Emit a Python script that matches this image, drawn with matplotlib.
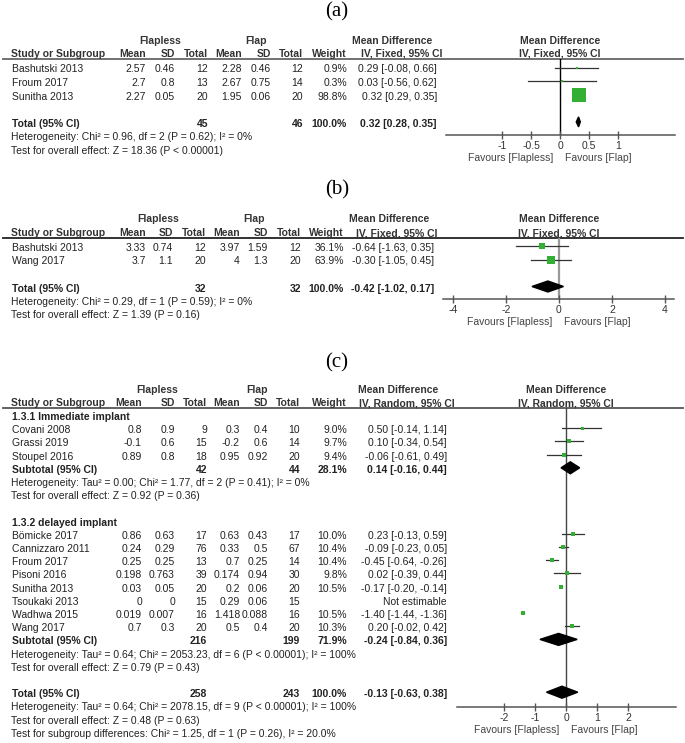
import matplotlib
matplotlib.use('Agg')
import matplotlib.pyplot as plt
from matplotlib.patches import Polygon
import numpy as np

W, H = 685, 743
plt.rcParams['font.family'] = ['Liberation Sans', 'DejaVu Sans']
plt.rcParams['axes.unicode_minus'] = False

# ---------------- (a) ----------------
a_study = ['Bashutski 2013', 'Froum 2017', 'Sunitha 2013']
a_m1 = [2.57, 2.7, 2.27]
a_sd1 = [0.46, 0.8, 0.05]
a_n1 = [12, 13, 20]
a_m2 = [2.28, 2.67, 1.95]
a_sd2 = [0.46, 0.75, 0.06]
a_n2 = [12, 14, 20]
a_weight = [0.9, 0.3, 98.8]
a_md = [0.29, 0.03, 0.32]
a_lo = [-0.08, -0.56, 0.29]
a_hi = [0.66, 0.62, 0.35]
a_tot = [45, 46, 100.0, 0.32, 0.28, 0.35]
a_notes = ['Heterogeneity: Chi² = 0.96, df = 2 (P = 0.62); I² = 0%',
           'Test for overall effect: Z = 18.36 (P < 0.00001)']
a_ticks = [-1, -0.5, 0, 0.5, 1]

# ---------------- (b) ----------------
b_study = ['Bashutski 2013', 'Wang 2017']
b_m1 = [3.33, 3.7]
b_sd1 = [0.74, 1.1]
b_n1 = [12, 20]
b_m2 = [3.97, 4]
b_sd2 = [1.59, 1.3]
b_n2 = [12, 20]
b_weight = [36.1, 63.9]
b_md = [-0.64, -0.30]
b_lo = [-1.63, -1.05]
b_hi = [0.35, 0.45]
b_tot = [32, 32, 100.0, -0.42, -1.02, 0.17]
b_notes = ['Heterogeneity: Chi² = 0.29, df = 1 (P = 0.59); I² = 0%',
           'Test for overall effect: Z = 1.39 (P = 0.16)']
b_ticks = [-4, -2, 0, 2, 4]

# ---------------- (c) ----------------
c1_study = ['Covani 2008', 'Grassi 2019', 'Stoupel 2016']
c1_m1 = [0.8, -0.1, 0.89]
c1_sd1 = [0.9, 0.6, 0.8]
c1_n1 = [9, 15, 18]
c1_m2 = [0.3, -0.2, 0.95]
c1_sd2 = [0.4, 0.6, 0.92]
c1_n2 = [10, 14, 20]
c1_weight = [9.0, 9.7, 9.4]
c1_md = [0.50, 0.10, -0.06]
c1_lo = [-0.14, -0.34, -0.61]
c1_hi = [1.14, 0.54, 0.49]
c1_sub = [42, 44, 28.1, 0.14, -0.16, 0.44]
c1_notes = ['Heterogeneity: Tau² = 0.00; Chi² = 1.77, df = 2 (P = 0.41); I² = 0%',
            'Test for overall effect: Z = 0.92 (P = 0.36)']

c2_study = ['Bömicke 2017', 'Cannizzaro 2011', 'Froum 2017', 'Pisoni 2016',
            'Sunitha 2013', 'Tsoukaki 2013', 'Wadhwa 2015', 'Wang 2017']
c2_m1 = [0.86, 0.24, 0.25, 0.198, 0.03, 0, 0.019, 0.7]
c2_sd1 = [0.63, 0.29, 0.25, 0.763, 0.05, 0, 0.007, 0.3]
c2_n1 = [17, 76, 13, 39, 20, 15, 16, 20]
c2_m2 = [0.63, 0.33, 0.7, 0.174, 0.2, 0.29, 1.418, 0.5]
c2_sd2 = [0.43, 0.5, 0.25, 0.94, 0.06, 0.06, 0.088, 0.4]
c2_n2 = [17, 67, 14, 30, 20, 15, 16, 20]
c2_weight = [10.0, 10.4, 10.4, 9.8, 10.5, None, 10.5, 10.3]
c2_md = [0.23, -0.09, -0.45, 0.02, -0.17, None, -1.40, 0.20]
c2_lo = [-0.13, -0.23, -0.64, -0.39, -0.20, None, -1.44, -0.02]
c2_hi = [0.59, 0.05, -0.26, 0.44, -0.14, None, -1.36, 0.42]
c2_sub = [216, 199, 71.9, -0.24, -0.84, 0.36]
c2_notes = ['Heterogeneity: Tau² = 0.64; Chi² = 2053.23, df = 6 (P < 0.00001); I² = 100%',
            'Test for overall effect: Z = 0.79 (P = 0.43)']
c_tot = [258, 243, 100.0, -0.13, -0.63, 0.38]
c_notes = ['Heterogeneity: Tau² = 0.64; Chi² = 2078.15, df = 9 (P < 0.00001); I² = 100%',
           'Test for overall effect: Z = 0.48 (P = 0.63)',
           'Test for subgroup differences: Chi² = 1.25, df = 1 (P = 0.26), I² = 20.0%']
c_ticks = [-2, -1, 0, 1, 2]

FS = 7.5
TXT = '#222222'
HDR = '#333333'
GREEN = '#33b033'

fig = plt.figure(figsize=(W / 100, H / 100), dpi=100)
bg = fig.add_axes([0, 0, 1, 1])
bg.set_xlim(0, W)
bg.set_ylim(H, 0)
bg.axis('off')


def txt(x, y, s, ha='right', bold=False, color=TXT):
    bg.text(x, y, s, ha=ha, va='center', fontsize=FS, color=color,
            fontweight='bold' if bold else 'normal')


def forest_ax(x0, x1, y0, y1, xlim, ticks, vcolor, vlw):
    ax = fig.add_axes([x0 / W, 1 - y1 / H, (x1 - x0) / W, (y1 - y0) / H])
    ax.set_xlim(*xlim)
    ax.set_ylim(y1, y0)
    ax.patch.set_alpha(0)
    for s in ['top', 'right', 'left']:
        ax.spines[s].set_visible(False)
    ax.spines['bottom'].set_color('#555555')
    ax.spines['bottom'].set_linewidth(1.1)
    ax.set_yticks([])
    ax.set_xticks(ticks)
    ax.set_xticklabels([f'{t:g}' for t in ticks])
    ax.tick_params(axis='x', direction='inout', length=6, width=1, color='#555555',
                   labelsize=FS, labelcolor=HDR, pad=1.5)
    ax.axvline(0, color=vcolor, lw=vlw, zorder=1)
    ax.annotate('Favours [Flapless]', xy=(0, 0), xycoords=('data', 'axes fraction'),
                xytext=(-5, -16.5), textcoords='offset points', ha='right', va='center',
                fontsize=FS, color='#444444')
    ax.annotate('Favours [Flap]', xy=(0, 0), xycoords=('data', 'axes fraction'),
                xytext=(3.6, -16.5), textcoords='offset points', ha='left', va='center',
                fontsize=FS, color='#444444')
    return ax


def header(y1, y2, cols, flx, fx, mdx, ivx, ivlabel, rx, x_line, line_color):
    txt(flx, y1, 'Flapless', ha='center', bold=True, color=HDR)
    txt(fx, y1, 'Flap', ha='center', bold=True, color=HDR)
    txt(mdx, y1, 'Mean Difference', ha='center', bold=True, color=HDR)
    txt(rx, y1, 'Mean Difference', ha='center', bold=True, color=HDR)
    txt(11, y2, 'Study or Subgroup', ha='left', bold=True, color=HDR)
    for x, s in zip(cols[:7], ['Mean', 'SD', 'Total', 'Mean', 'SD', 'Total', 'Weight']):
        txt(x, y2, s, bold=True, color=HDR)
    txt(ivx, y2, ivlabel, ha='left', bold=True, color=HDR)
    txt(rx, y2, ivlabel, ha='center', bold=True, color=HDR)
    bg.plot([3, 683], [x_line, x_line], color=line_color, lw=1.3)


def study_rows(ax, ys, cols, study, m1, sd1, n1, m2, sd2, n2, wt, md, lo, hi, k):
    for i, y in enumerate(ys):
        txt(12, y, study[i], ha='left')
        vals = [f'{m1[i]:g}', f'{sd1[i]:g}', str(n1[i]), f'{m2[i]:g}', f'{sd2[i]:g}', str(n2[i])]
        for x, s in zip(cols[:6], vals):
            txt(x, y, s)
        if md[i] is None:
            txt(cols[7], y, 'Not estimable')
            continue
        txt(cols[6], y, f'{wt[i]:.1f}%')
        txt(cols[7], y, f'{md[i]:.2f} [{lo[i]:.2f}, {hi[i]:.2f}]')
        ax.plot([lo[i], hi[i]], [y - 2, y - 2], color='#333333', lw=0.9, clip_on=False, zorder=2)
        side = max(2.5, k * np.sqrt(wt[i]))
        ax.plot(md[i], y - 2, 's', color=GREEN, markersize=side * 0.72, mew=0,
                clip_on=False, zorder=3)


def total_row(ax, y, cols, label, tot, dh):
    txt(12, y, label, ha='left', bold=True)
    txt(cols[2], y, str(tot[0]), bold=True)
    txt(cols[5], y, str(tot[1]), bold=True)
    txt(cols[6], y, f'{tot[2]:.1f}%', bold=True)
    txt(cols[7], y, f'{tot[3]:.2f} [{tot[4]:.2f}, {tot[5]:.2f}]', bold=True)
    yc = y - 2
    ax.add_patch(Polygon([(tot[4], yc), (tot[3], yc - dh / 2), (tot[5], yc), (tot[3], yc + dh / 2)],
                         closed=True, color='black', clip_on=False, zorder=3))


def title(y, s):
    bg.text(337, y, s, ha='center', va='center', fontsize=15, color='black',
            family=['Liberation Serif', 'DejaVu Serif'])


# ---- panel (a)
title(12, '(a)')
cols_a = [146, 175, 208, 242, 271, 303, 347, 437]
header(41, 54, cols_a, 160, 256, 392, 361, 'IV, Fixed, 95% CI', 560, 59, '#666666')
ax_a = forest_ax(446, 675, 59, 135, (-1.966, 1.983), a_ticks, 'black', 1.0)
ys_a = [69.5 + 13.6 * i for i in range(len(a_study))]
study_rows(ax_a, ys_a, cols_a, a_study, a_m1, a_sd1, a_n1, a_m2, a_sd2, a_n2,
           a_weight, a_md, a_lo, a_hi, 1.5)
total_row(ax_a, 123.9, cols_a, 'Total (95% CI)', a_tot, 10)
for j, s in enumerate(a_notes):
    txt(11, 137.5 + 13.6 * j, s, ha='left')

# ---- panel (b)
title(190, '(b)')
cols_b = [146, 173, 206, 240, 268, 301, 344, 434]
header(219, 233, cols_b, 158, 254, 389, 356, 'IV, Fixed, 95% CI', 559, 238, '#222222')
ax_b = forest_ax(443, 674, 238, 299, (-4.377, 4.34), b_ticks, '#999999', 1.6)
ys_b = [248 + 13.5 * i for i in range(len(b_study))]
study_rows(ax_b, ys_b, cols_b, b_study, b_m1, b_sd1, b_n1, b_m2, b_sd2, b_n2,
           b_weight, b_md, b_lo, b_hi, 1.1)
total_row(ax_b, 288.5, cols_b, 'Total (95% CI)', b_tot, 11)
for j, s in enumerate(b_notes):
    txt(11, 302 + 13.5 * j, s, ha='left')

# ---- panel (c)
title(363, '(c)')
cols_c = [142, 175, 207, 240, 268, 300, 347, 447]
header(390, 403, cols_c, 157, 257, 398, 359, 'IV, Random, 95% CI', 566, 408, '#555555')
ax_c = forest_ax(457, 676, 408, 707, (-3.516, 3.548), c_ticks, '#444444', 1.0)
row = 13.2
y0 = 417
txt(12, y0, '1.3.1 Immediate implant', ha='left', bold=True)
ys_c1 = [y0 + row * (i + 1) for i in range(len(c1_study))]
study_rows(ax_c, ys_c1, cols_c, c1_study, c1_m1, c1_sd1, c1_n1, c1_m2, c1_sd2, c1_n2,
           c1_weight, c1_md, c1_lo, c1_hi, 1.0)
total_row(ax_c, y0 + row * 4, cols_c, 'Subtotal (95% CI)', c1_sub, 12)
for j, s in enumerate(c1_notes):
    txt(11, y0 + row * (5 + j), s, ha='left')

txt(12, y0 + row * 8, '1.3.2 delayed implant', ha='left', bold=True)
ys_c2 = [y0 + row * (9 + i) for i in range(len(c2_study))]
study_rows(ax_c, ys_c2, cols_c, c2_study, c2_m1, c2_sd1, c2_n1, c2_m2, c2_sd2, c2_n2,
           c2_weight, c2_md, c2_lo, c2_hi, 1.0)
total_row(ax_c, y0 + row * 17, cols_c, 'Subtotal (95% CI)', c2_sub, 12)
for j, s in enumerate(c2_notes):
    txt(11, y0 + row * (18 + j), s, ha='left')

total_row(ax_c, y0 + row * 21, cols_c, 'Total (95% CI)', c_tot, 12)
for j, s in enumerate(c_notes):
    txt(11, y0 + row * (22 + j), s, ha='left')

fig.savefig('out.png', dpi=100)
